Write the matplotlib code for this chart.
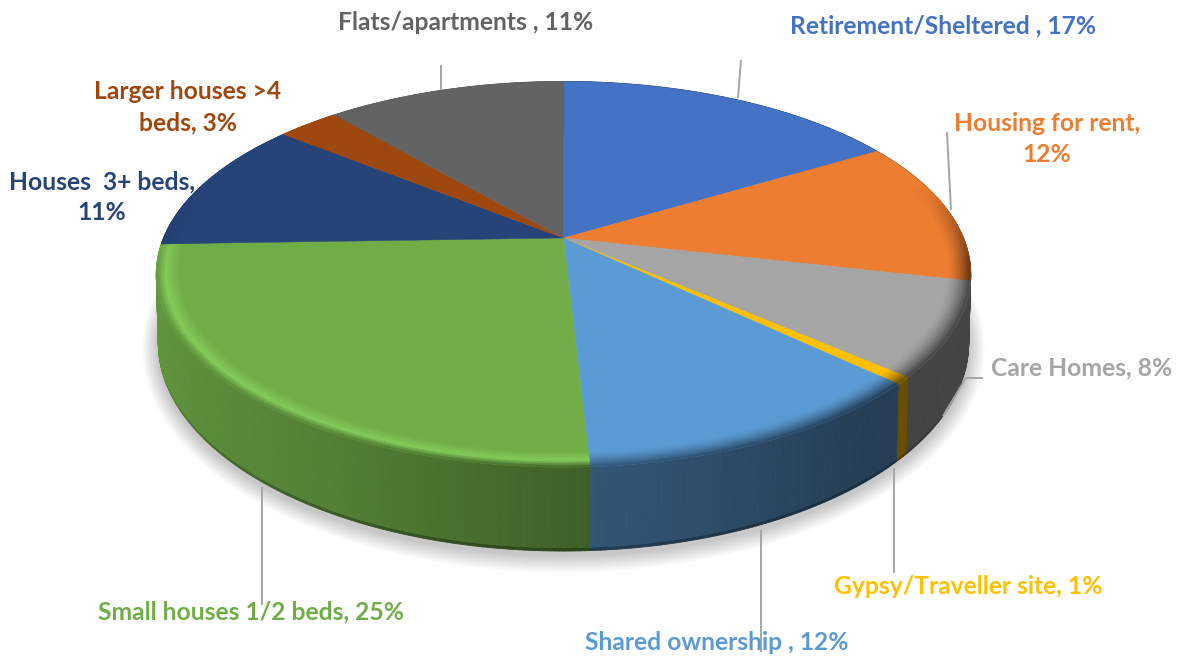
import numpy as np
import matplotlib
matplotlib.use("Agg")
import matplotlib.pyplot as plt
from matplotlib.collections import PolyCollection
from matplotlib.colors import to_rgb

labels = ["Retirement/Sheltered , 17%", "Housing for rent,\n12%", "Care Homes, 8%",
          "Gypsy/Traveller site, 1%", "Shared ownership , 12%", "Small houses 1/2 beds, 25%",
          "Houses  3+ beds,\n11%", "Larger houses >4\nbeds, 3%", "Flats/apartments , 11%"]
# shares as measured off the slices, the labels only show them rounded
shares = [16.45, 12.1, 7.85, 0.6, 12.14, 25.36, 11.2, 2.95, 11.35]
colors = ["#4472C4", "#ED7D31", "#A5A5A5", "#FFC000", "#5B9BD5",
          "#70AD47", "#264478", "#9E480E", "#636363"]

label_pos = [(943, 26), (1047, 139), (1082, 368), (968, 586), (717, 642),
             (251, 612), (102, 197), (188, 107), (466, 22)]

leaders = [([741, 738], [60, 98]), ([947, 951], [132, 210]), ([983, 966, 943], [378, 378, 416]),
           ([894, 894], [468, 573]), ([761, 761], [530, 652]), ([262, 262], [487, 605]),
           ([441, 441], [65, 90])]

# projection of the pie, top disc and bottom disc
K = 0.188
TOP = dict(x0=563.5, y0=238, a=186, b=400)
BOT = dict(x0=563.5, y0=304, a=200.6, b=398)
BEVEL = 0.945


def project(theta, r, d):
    u = r * np.sin(theta)
    v = r * np.cos(theta)
    den = 1 + K * v
    return d["x0"] + d["b"] * u / den, d["y0"] - d["a"] * v / den


def wall_shade(deg):
    return np.interp(deg, [100, 140, 176, 210, 250, 275], [0.42, 0.40, 0.55, 0.75, 0.86, 0.9])


def mix(c1, c2, t):
    return tuple(np.array(c1) * (1 - t) + np.array(c2) * t)


fig = plt.figure(figsize=(11.83, 6.56), dpi=100)
ax = fig.add_axes([0, 0, 1, 1])
ax.set_xlim(0, 1183)
ax.set_ylim(656, 0)
ax.axis("off")

# soft shadow under the pie
th = np.linspace(0, 2 * np.pi, 300)
for grow in np.linspace(16, 1, 14):
    sx, sy = project(th, 1, BOT)
    cx, cy = sx.mean(), sy.mean()
    sx2 = cx + (sx - cx) * (1 + grow / 405)
    sy2 = cy + 4 + (sy - cy) * (1 + grow / 208)
    ax.fill(sx2, sy2, color="#000000", alpha=0.016, lw=0, zorder=1)

edges = np.concatenate([[0], np.cumsum(shares)]) / np.sum(shares) * 2 * np.pi

# walls, back to front. foot band first so the main band sits cleanly on it
main, main_cols, foot_q, foot_cols, keys = [], [], [], [], []
for i, col in enumerate(colors):
    base = np.array(to_rgb(col))
    steps = max(3, int((edges[i + 1] - edges[i]) / np.radians(0.6)))
    tt = np.linspace(edges[i], edges[i + 1], steps + 1)
    for a0, a1 in zip(tt[:-1], tt[1:]):
        mid = (a0 + a1) / 2
        shade = wall_shade(np.degrees(mid))
        # the orange wall stops at the silhouette, care homes grey takes over there
        wall_base = np.array(to_rgb(colors[2])) if i == 1 and np.degrees(mid) > 97 else base
        xt0, yt0 = project(a0, 1, TOP)
        xt1, yt1 = project(a1, 1, TOP)
        xb0, yb0 = project(a0, 1, BOT)
        xb1, yb1 = project(a1, 1, BOT)
        f = 0.96
        foot = 1 - 0.3 * np.clip(-np.cos(mid) * 1.4 - 0.2, 0, 1)
        xm0, ym0 = xt0 + (xb0 - xt0) * f, yt0 + (yb0 - yt0) * f
        xm1, ym1 = xt1 + (xb1 - xt1) * f, yt1 + (yb1 - yt1) * f
        keys.append(np.cos(mid))
        main.append([(xt0, yt0), (xt1, yt1), (xm1, ym1), (xm0, ym0)])
        main_cols.append(tuple(wall_base * shade))
        foot_q.append([(xm0, ym0), (xm1, ym1), (xb1, yb1), (xb0, yb0)])
        foot_cols.append(tuple(wall_base * shade * foot))
order = np.argsort(keys)[::-1]
ax.add_collection(PolyCollection([foot_q[j] for j in order], facecolors=[foot_cols[j] for j in order],
                                 edgecolors=[foot_cols[j] for j in order], linewidths=0.6, zorder=2))
ax.add_collection(PolyCollection([main[j] for j in order], facecolors=[main_cols[j] for j in order],
                                 edgecolors=[main_cols[j] for j in order], linewidths=0.6, zorder=2.1))

# top face
for i, col in enumerate(colors):
    tt = np.linspace(edges[i], edges[i + 1], 120)
    x, y = project(tt, 1, TOP)
    ax.fill(np.r_[TOP["x0"], x], np.r_[TOP["y0"], y], color=col, lw=0.3, zorder=3)

# bevel round the rim: face colour running into the wall colour, green gets a light lip
rings = np.linspace(BEVEL, 1, 10)
for i, col in enumerate(colors):
    base = np.array(to_rgb(col))
    steps = max(3, int((edges[i + 1] - edges[i]) / np.radians(0.8)))
    tt = np.linspace(edges[i], edges[i + 1], steps + 1)
    polys, cols = [], []
    for a0, a1 in zip(tt[:-1], tt[1:]):
        mid = (a0 + a1) / 2
        vis = np.clip((0.3 - np.cos(mid)) / 0.45, 0, 1)
        if vis == 0:
            continue
        wall = base * wall_shade(np.degrees(mid))
        for r0, r1 in zip(rings[:-1], rings[1:]):
            s = (((r0 + r1) / 2) - BEVEL) / (1 - BEVEL)
            if col == "#70AD47":
                # bright line, then a quick drop into the wall
                lip = np.array([0.52, 0.80, 0.36])
                if s < 0.6:
                    c = mix(base, lip, s / 0.6 * vis)
                else:
                    c = mix(mix(base, lip, vis), wall, (s - 0.6) / 0.4 * vis)
            else:
                c = mix(base, wall, s ** 1.5 * vis)
            x00, y00 = project(a0, r0, TOP)
            x01, y01 = project(a1, r0, TOP)
            x11, y11 = project(a1, r1, TOP)
            x10, y10 = project(a0, r1, TOP)
            polys.append([(x00, y00), (x01, y01), (x11, y11), (x10, y10)])
            cols.append(c)
    if polys:
        ax.add_collection(PolyCollection(polys, facecolors=cols, edgecolors=cols, linewidths=0.5, zorder=4))

for lx, ly in leaders:
    ax.plot(lx, ly, color="#A6A6A6", lw=1.4, solid_capstyle="butt", zorder=5)

for text, pos, col in zip(labels, label_pos, colors):
    ax.text(pos[0], pos[1], text, color=col, fontsize=17.7, fontweight="bold", family="Lato",
            ha="center", va="center", linespacing=1.42, zorder=6)

fig.savefig("out.png", dpi=100)
